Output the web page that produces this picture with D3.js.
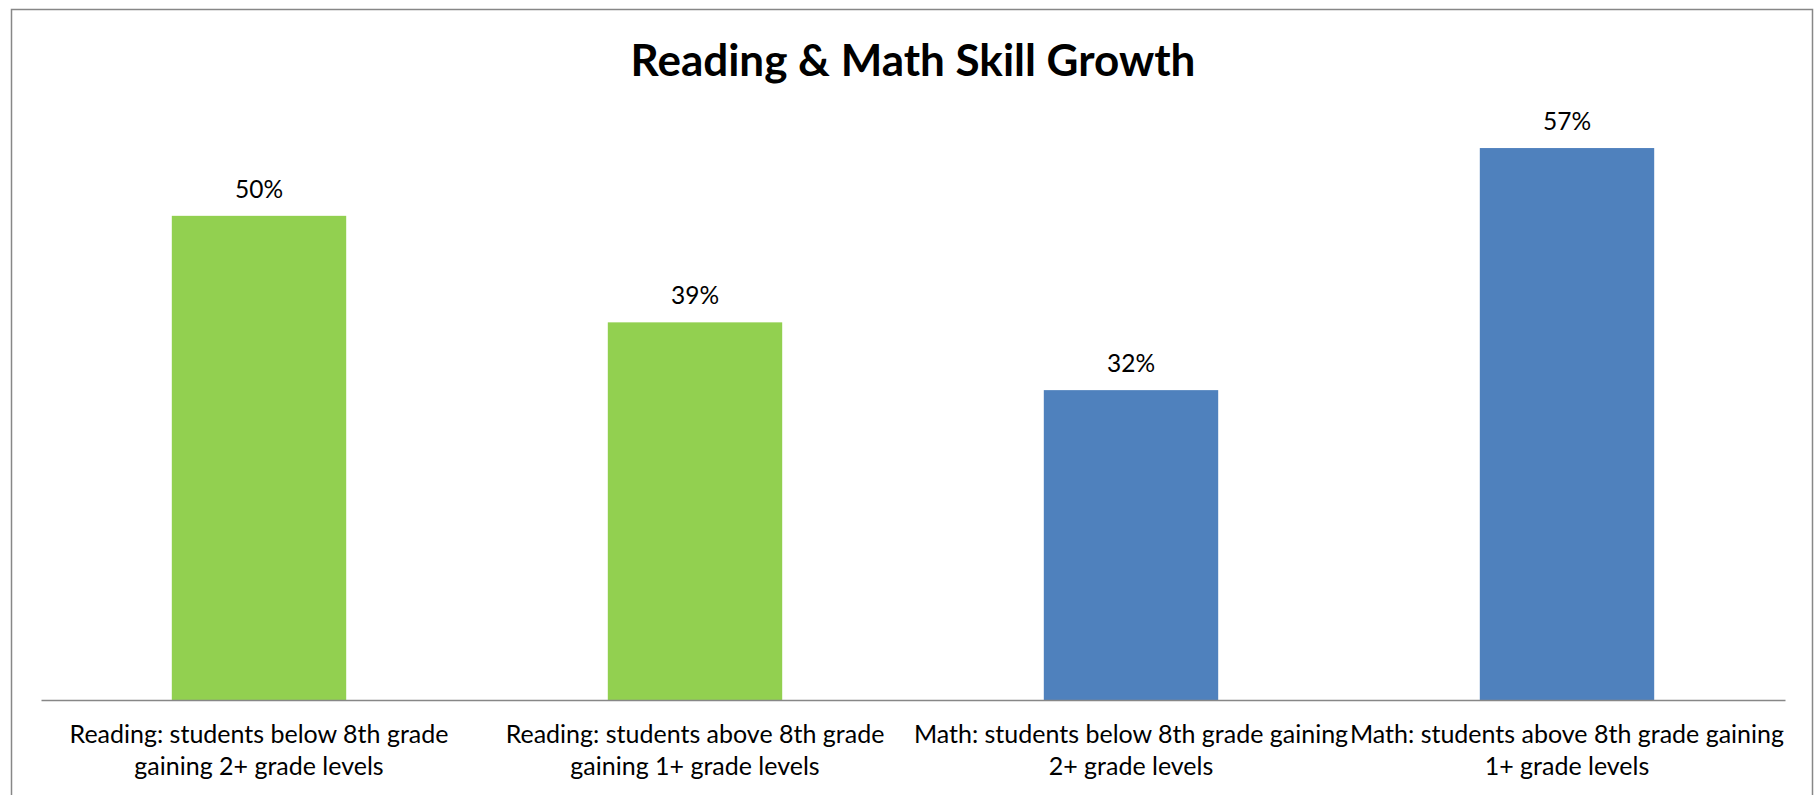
<!DOCTYPE html>
<html>
<head>
<meta charset="utf-8">
<script src="https://cdn.jsdelivr.net/npm/d3@7"></script>
<style>
  html, body { margin: 0; padding: 0; background: #ffffff; }
  svg { display: block; }
  text { font-family: Lato, "Open Sans", "DejaVu Sans", sans-serif; fill: #000; }
</style>
</head>
<body>
<svg id="chart" width="1814" height="795"></svg>
<script>
// Category labels, one entry per line as they wrap under each bar
const categories = [
  ["Reading: students below 8th grade", "gaining 2+ grade levels"],
  ["Reading: students above 8th grade", "gaining 1+ grade levels"],
  ["Math: students below 8th grade gaining", "2+ grade levels"],
  ["Math: students above 8th grade gaining", "1+ grade levels"]
];
const values = [50, 39, 32, 57];          // percent of students
const subjects = ["Reading", "Reading", "Math", "Math"];
const subjectColors = { Reading: "#92D050", Math: "#4F81BD" };
const yDomain = [0, 60];
const title = "Reading & Math Skill Growth";

const svg = d3.select("#chart");
const W = 1814, H = 795;
const plot = { left: 41, right: 1785, top: 119, bottom: 700 };

// Outer chart frame
svg.append("rect")
  .attr("x", 11.5).attr("y", 9.5)
  .attr("width", W - 13).attr("height", H)
  .attr("fill", "#ffffff")
  .attr("stroke", "#878787").attr("stroke-width", 1.5);

// Title
svg.append("text")
  .attr("x", (plot.left + plot.right) / 2)
  .attr("y", 76)
  .attr("text-anchor", "middle")
  .style("font-size", "44px")
  .style("font-weight", "bold")
  .text(title);

const x = d3.scaleBand()
  .domain(d3.range(categories.length))
  .range([plot.left, plot.right])
  .paddingInner(0.6)
  .paddingOuter(0.3);

const y = d3.scaleLinear()
  .domain(yDomain)
  .range([plot.bottom, plot.top]);

// Bars
svg.append("g").selectAll("rect")
  .data(values)
  .join("rect")
  .attr("x", (d, i) => x(i))
  .attr("y", d => y(d))
  .attr("width", x.bandwidth())
  .attr("height", d => y(0) - y(d))
  .attr("fill", (d, i) => subjectColors[subjects[i]]);

// Value labels above bars
svg.append("g").selectAll("text")
  .data(values)
  .join("text")
  .attr("x", (d, i) => x(i) + x.bandwidth() / 2)
  .attr("y", d => y(d) - 18)
  .attr("text-anchor", "middle")
  .style("font-size", "24.5px")
  .text(d => d + "%");

// Category axis (no ticks, just the baseline)
const xAxis = d3.axisBottom(x).tickSize(0).tickFormat("");
const axisG = svg.append("g")
  .attr("transform", `translate(0,${plot.bottom})`)
  .call(xAxis);
axisG.select(".domain")
  .attr("stroke", "#878787")
  .attr("stroke-width", 1.6);

// Wrapped category labels
const labelG = svg.append("g");
categories.forEach((lines, i) => {
  const t = labelG.append("text")
    .attr("text-anchor", "middle")
    .style("font-size", "25px");
  lines.forEach((line, j) => {
    t.append("tspan")
      .attr("x", x(i) + x.bandwidth() / 2)
      .attr("y", 743 + j * 32)
      .text(line);
  });
});
</script>
</body>
</html>
